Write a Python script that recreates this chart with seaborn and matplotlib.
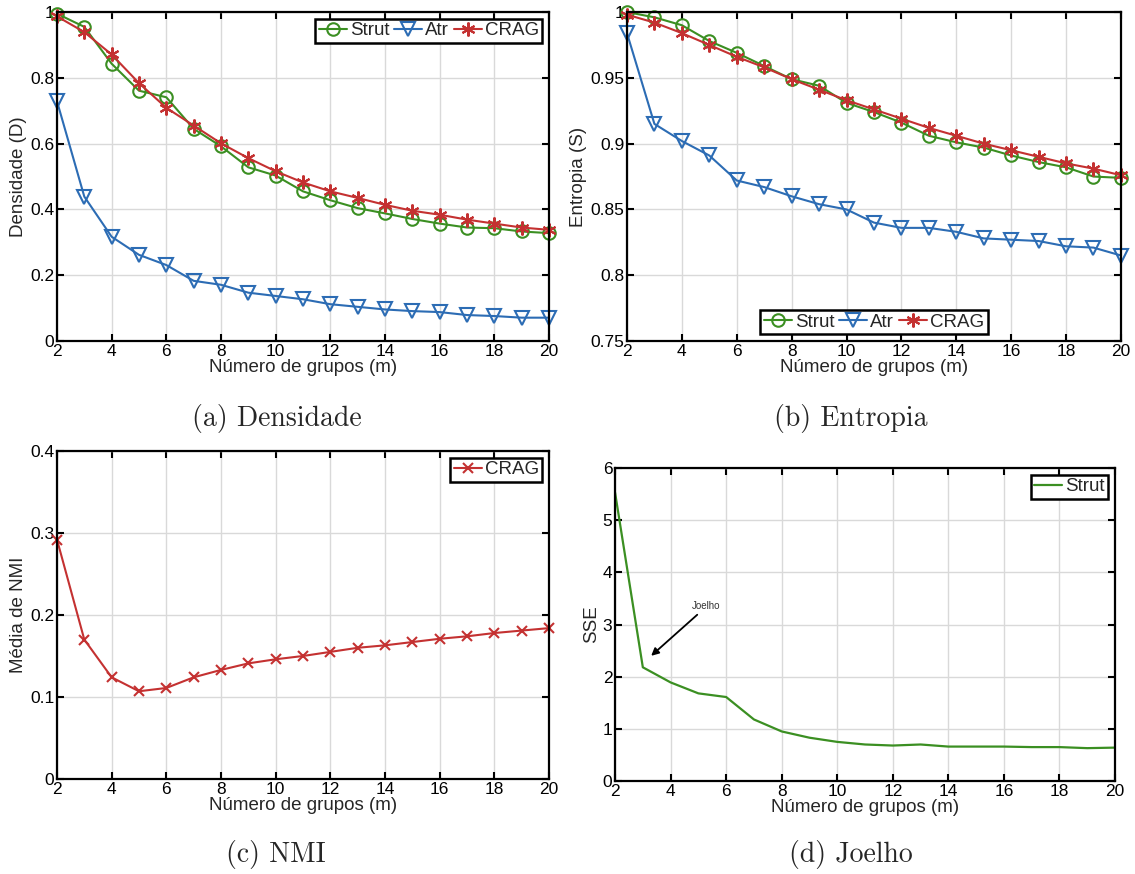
import numpy as np
import matplotlib
matplotlib.use("Agg")
import matplotlib.pyplot as plt
import seaborn as sns
from matplotlib.ticker import FuncFormatter

# --- data ---
m = list(range(2, 21))

dens_strut = [0.995, 0.955, 0.843, 0.761, 0.741, 0.645, 0.592, 0.528, 0.503, 0.455,
              0.428, 0.404, 0.388, 0.371, 0.357, 0.345, 0.343, 0.333, 0.328]
dens_atr = [0.729, 0.439, 0.317, 0.262, 0.231, 0.183, 0.171, 0.147, 0.137, 0.127,
            0.112, 0.104, 0.096, 0.091, 0.088, 0.079, 0.076, 0.071, 0.071]
dens_crag = [0.987, 0.939, 0.871, 0.784, 0.709, 0.655, 0.601, 0.556, 0.516, 0.482,
             0.455, 0.435, 0.414, 0.396, 0.384, 0.369, 0.357, 0.345, 0.338]

ent_strut = [1.000, 0.996, 0.990, 0.978, 0.969, 0.959, 0.949, 0.944, 0.931, 0.924,
             0.916, 0.906, 0.901, 0.897, 0.891, 0.886, 0.882, 0.875, 0.874]
ent_atr = [0.984, 0.915, 0.902, 0.891, 0.872, 0.867, 0.860, 0.854, 0.850, 0.840,
           0.836, 0.836, 0.833, 0.828, 0.827, 0.826, 0.822, 0.821, 0.815]
ent_crag = [0.998, 0.992, 0.984, 0.975, 0.966, 0.958, 0.949, 0.941, 0.933, 0.926,
            0.919, 0.912, 0.906, 0.900, 0.895, 0.890, 0.885, 0.881, 0.876]

nmi_crag = [0.292, 0.170, 0.124, 0.107, 0.111, 0.124, 0.133, 0.141, 0.146, 0.150,
            0.155, 0.160, 0.163, 0.167, 0.171, 0.174, 0.178, 0.181, 0.184]

sse_strut = [5.53, 2.18, 1.89, 1.68, 1.61, 1.18, 0.95, 0.83, 0.75, 0.70,
             0.68, 0.70, 0.66, 0.66, 0.66, 0.65, 0.65, 0.63, 0.64]

xticks = list(range(2, 21, 2))
xlabel = "Número de grupos (m)"
captions = ["(a) Densidade", "(b) Entropia", "(c) NMI", "(d) Joelho"]

GREEN = "#3b8f22"
BLUE = "#2c6cb4"
RED = "#c43131"

sns.set_theme(style="ticks")
plt.rcParams["font.family"] = ["Liberation Sans", "DejaVu Sans"]
plt.rcParams["xtick.direction"] = "in"
plt.rcParams["ytick.direction"] = "in"

fig = plt.figure(figsize=(11.35, 8.74), dpi=100)
ax_a = fig.add_axes([0.0502, 0.6098, 0.4335, 0.3764])
ax_b = fig.add_axes([0.5524, 0.6098, 0.4352, 0.3764])
ax_c = fig.add_axes([0.0502, 0.1087, 0.4335, 0.3753])
ax_d = fig.add_axes([0.5419, 0.1064, 0.4405, 0.3581])

asterisk = (6, 2, 0)


def style_axes(ax, ylim, yticks, ylabel):
    ax.set_xlim(2, 20)
    ax.set_ylim(*ylim)
    ax.set_xticks(xticks)
    ax.set_yticks(yticks)
    ax.yaxis.set_major_formatter(FuncFormatter(lambda v, p: "%g" % round(v, 4)))
    ax.grid(True, color="#d9d9d9", linewidth=1.0)
    ax.set_axisbelow(True)
    ax.tick_params(which="both", top=True, right=True, length=5, width=1.5,
                   labelsize=12.5, pad=2, colors="black")
    for s in ax.spines.values():
        s.set_linewidth(1.6)
        s.set_color("black")
    ax.set_xlabel(xlabel, fontsize=13.5, labelpad=0)
    ax.set_ylabel(ylabel, fontsize=13.5, labelpad=2)


def style_legend(ax, loc, ncol):
    leg = ax.legend(loc=loc, ncol=ncol, fontsize=13.5, frameon=True, fancybox=False,
                    handlelength=1.5, handletextpad=0.15, columnspacing=0.25,
                    borderpad=0.2, borderaxespad=0.35, framealpha=1)
    leg.get_frame().set_edgecolor("black")
    leg.get_frame().set_linewidth(1.8)


def three_series(ax, strut, atr, crag):
    sns.lineplot(x=m, y=strut, ax=ax, color=GREEN, lw=1.5, marker="o", ms=9,
                 mfc="none", mec=GREEN, mew=1.5, label="Strut", clip_on=False)
    sns.lineplot(x=m, y=atr, ax=ax, color=BLUE, lw=1.5, marker="v", ms=10,
                 mfc="none", mec=BLUE, mew=1.5, label="Atr", clip_on=False)
    sns.lineplot(x=m, y=crag, ax=ax, color=RED, lw=1.5, marker=asterisk, ms=10,
                 mec=RED, mew=1.5, label="CRAG", clip_on=False)


# (a) Densidade
three_series(ax_a, dens_strut, dens_atr, dens_crag)
style_axes(ax_a, (0, 1), [0, 0.2, 0.4, 0.6, 0.8, 1], "Densidade (D)")
style_legend(ax_a, "upper right", 3)

# (b) Entropia
three_series(ax_b, ent_strut, ent_atr, ent_crag)
style_axes(ax_b, (0.75, 1), [0.75, 0.8, 0.85, 0.9, 0.95, 1], "Entropia (S)")
style_legend(ax_b, "lower center", 3)

# (c) NMI
sns.lineplot(x=m, y=nmi_crag, ax=ax_c, color=RED, lw=1.5, marker="x", ms=7,
             mec=RED, mew=1.5, label="CRAG", clip_on=False)
style_axes(ax_c, (0, 0.4), [0, 0.1, 0.2, 0.3, 0.4], "Média de NMI")
style_legend(ax_c, "upper right", 1)

# (d) Joelho
sns.lineplot(x=m, y=sse_strut, ax=ax_d, color=GREEN, lw=1.6, label="Strut")
style_axes(ax_d, (0, 6), [0, 1, 2, 3, 4, 5, 6], "SSE")
style_legend(ax_d, "upper right", 1)
ax_d.annotate("Joelho", xy=(3.3, 2.4), xytext=(4.78, 3.25), fontsize=7,
              color="#333333", ha="left", va="bottom",
              arrowprops=dict(arrowstyle="-|>", color="black", lw=1.3,
                              mutation_scale=11, shrinkA=0, shrinkB=0))

# sub-figure captions
cap_pos = [(0.244, 0.521), (0.75, 0.521), (0.243, 0.022), (0.75, 0.022)]
for (x, y), txt in zip(cap_pos, captions):
    fig.text(x, y, txt, ha="center", va="center", fontsize=20,
             family=["cmr10", "DejaVu Serif"])

fig.savefig("out.png", dpi=100)
